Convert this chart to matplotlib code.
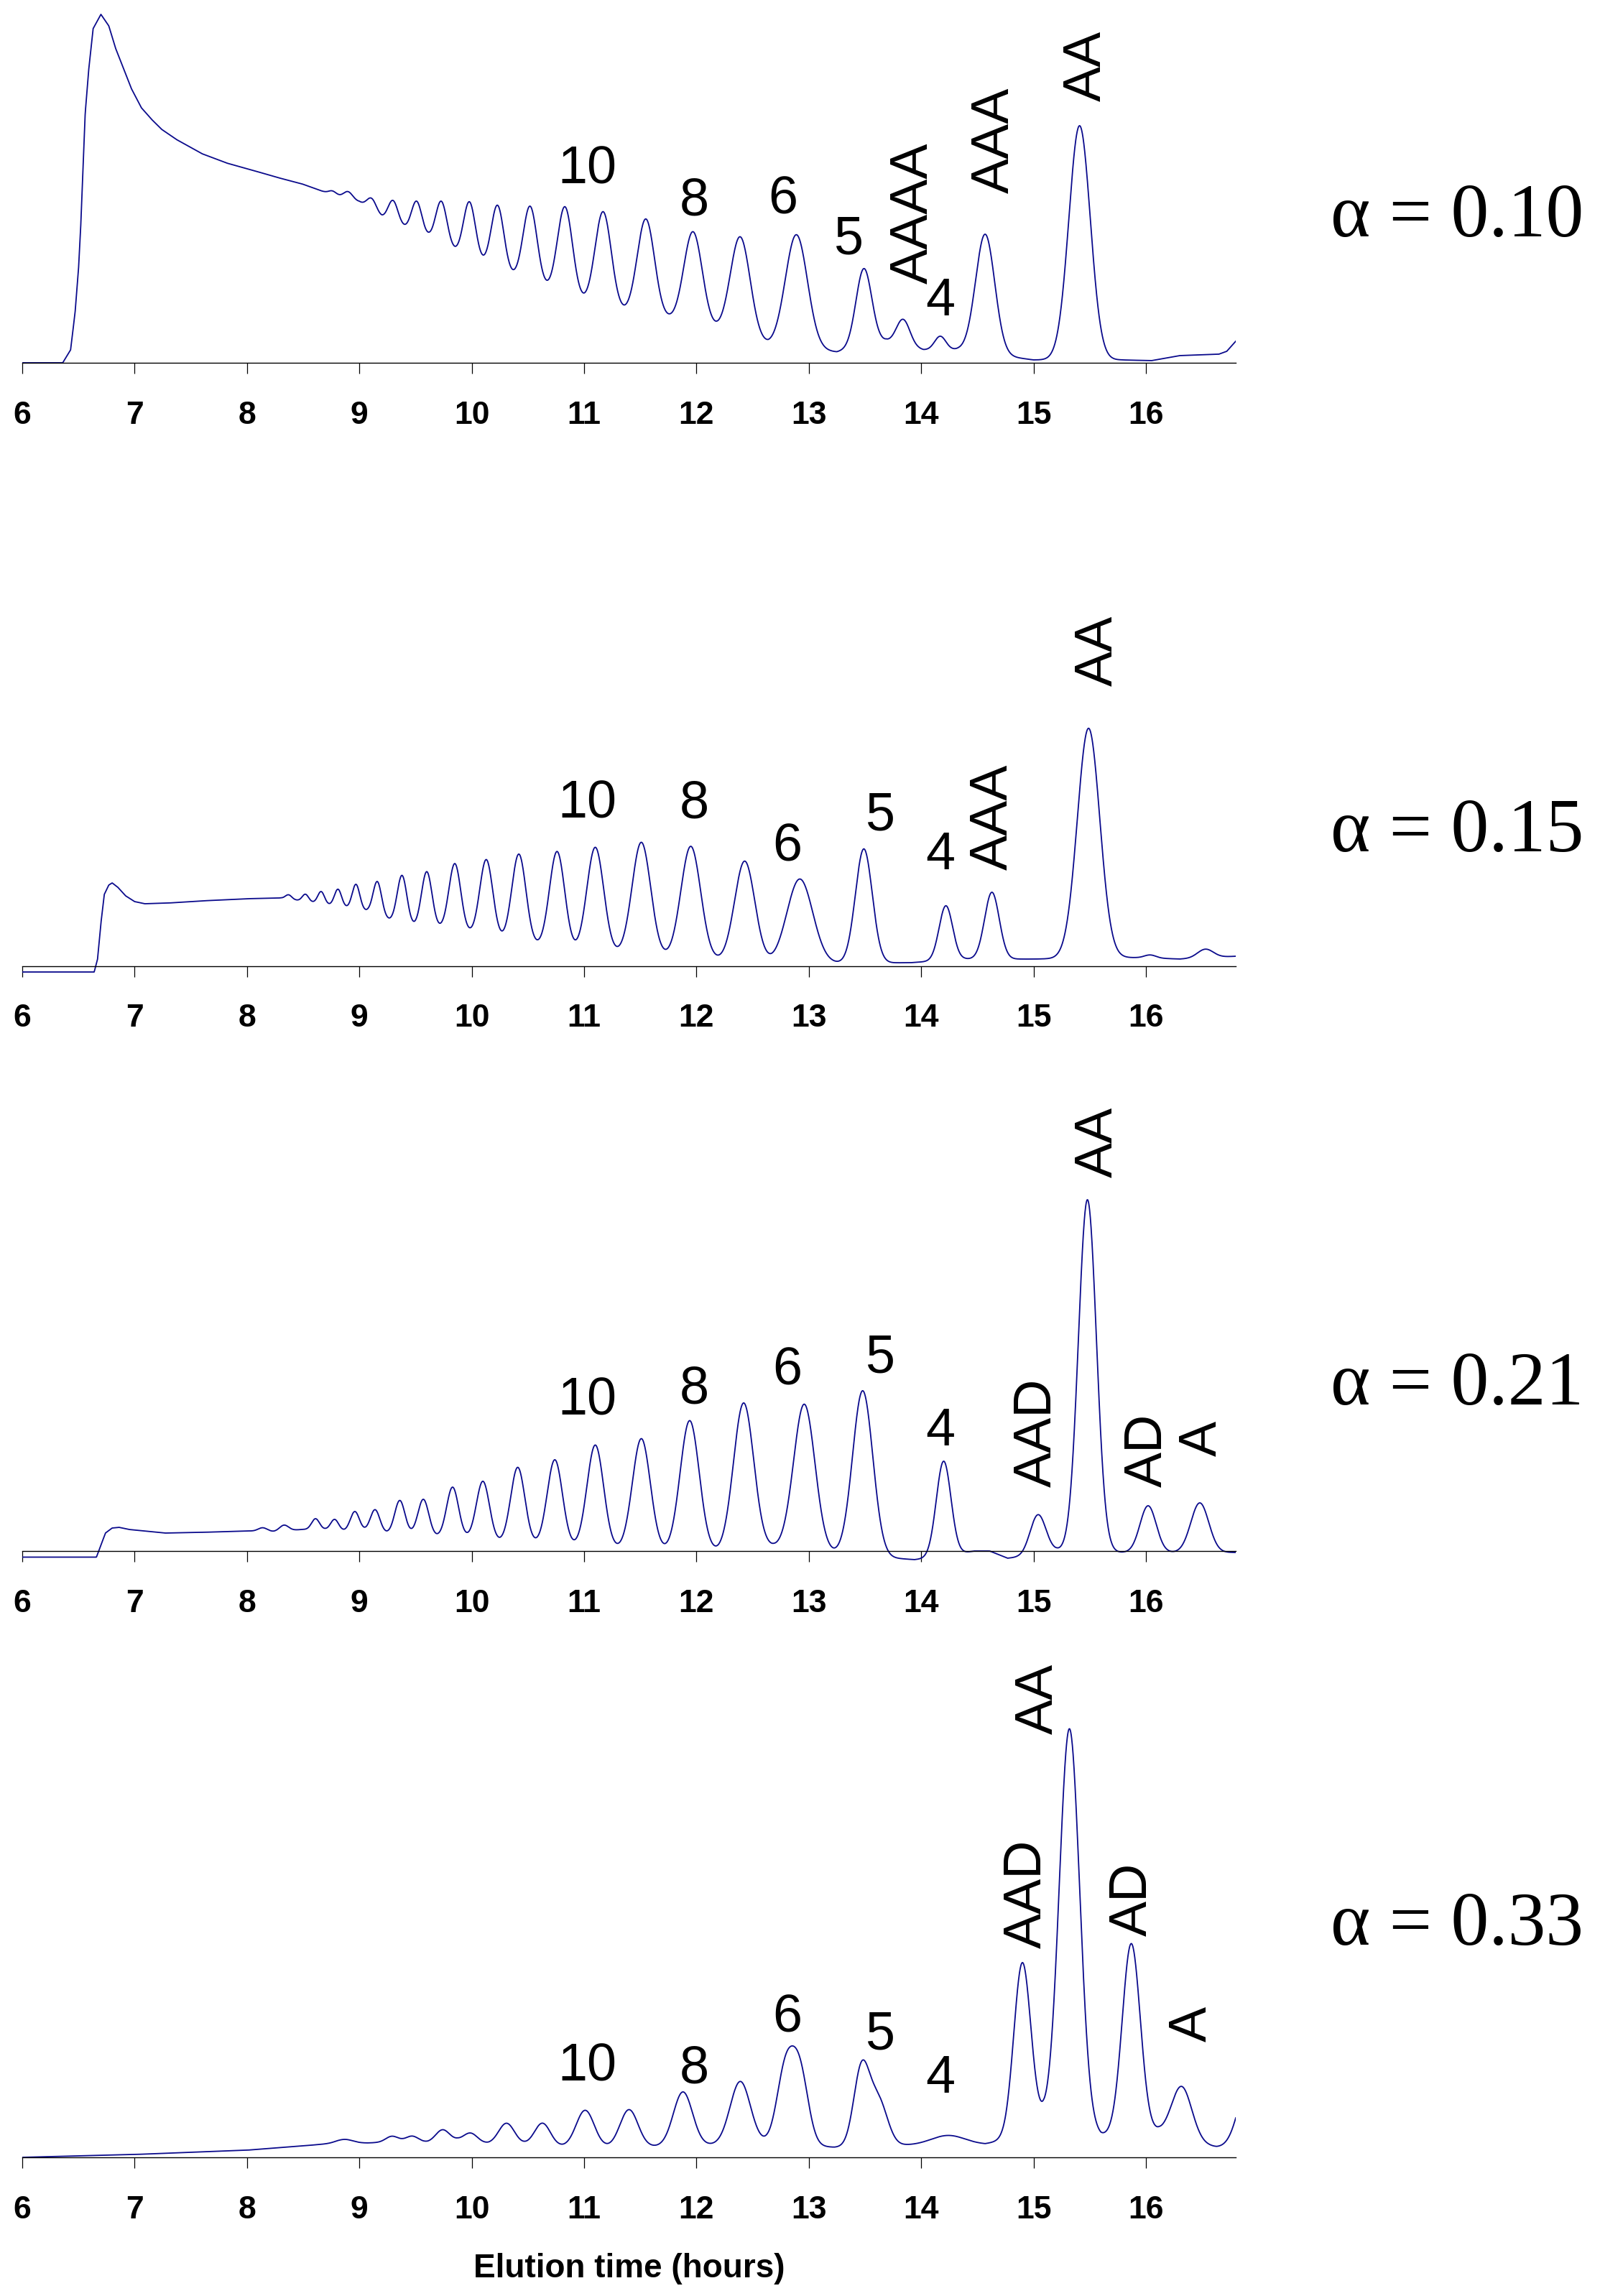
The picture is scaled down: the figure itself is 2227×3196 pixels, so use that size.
import numpy as np
import matplotlib
matplotlib.use("Agg")
import matplotlib.pyplot as plt

# Chromatograms for four alpha values. Heights are in pixels above the axis
# line of each panel, times in hours.

ALPHAS = ["0.10", "0.15", "0.21", "0.33"]

# --- alpha = 0.10 ---
base_t_010 = [6.00, 6.36, 6.43, 6.47, 6.50, 6.52, 6.54, 6.56, 6.59, 6.63, 6.70, 6.77, 6.83,
              6.88, 6.97, 7.06, 7.15, 7.24, 7.37, 7.60, 7.82, 8.05, 8.27, 8.49, 8.72,
              9.00, 9.20, 9.40, 9.62, 9.85, 10.10, 10.37, 10.67,
              11.00, 11.36, 11.76, 12.18, 12.64, 13.25, 13.69, 14.02, 14.33, 15.00, 15.78,
              16.05, 16.30, 16.65, 16.72, 16.80]
base_h_010 = [0, 0, 18, 70, 129, 189, 268, 347, 406, 465, 485, 469, 438,
              418, 382, 355, 339, 325, 311, 291, 278, 268, 258, 249, 236,
              224, 202, 188, 174, 155, 138, 120, 102,
              84, 70, 60, 45, 24, 15, 30, 18, 18, 4, 4,
              3, 10, 12, 16, 30]
peak_t_010 = [8.76, 8.90, 9.11, 9.30, 9.51, 9.73, 9.98, 10.23, 10.52, 10.83, 11.17, 11.55,
              11.97, 12.39, 12.89, 13.49, 13.84, 14.17, 14.57, 15.41]
peak_a_010 = [5, 10, 17, 31, 44, 60, 78, 90, 107, 124, 133, 135,
              130, 140, 158, 108, 36, 19, 166, 326]
peak_w_010 = [0.035, 0.04, 0.042, 0.044, 0.046, 0.05, 0.053, 0.056, 0.062, 0.067, 0.072, 0.077,
              0.082, 0.088, 0.098, 0.07, 0.06, 0.05, 0.085, 0.095]
labels_010 = ["10", "8", "6", "5", "AAAA", "4", "AAA", "AA"]
label_t_010 = [11.03, 11.98, 12.77, 13.35, 13.89, 14.17, 14.61, 15.43]
label_h_010 = [276, 232, 234, 178, 208, 92, 310, 413]

# --- alpha = 0.15 ---
base_t_015 = [6.00, 6.64, 6.67, 6.70, 6.73, 6.77, 6.80, 6.85, 6.92, 7.00, 7.09, 7.30, 7.60,
              8.00, 8.30, 8.58, 8.74, 8.90, 9.08, 9.27, 9.49, 9.74, 9.99, 10.27, 10.58,
              10.92, 11.30, 11.73, 12.16, 12.67, 13.24, 13.91, 14.39, 14.90, 15.00, 15.78,
              16.00, 16.30, 16.81]
base_h_015 = [-8, -8, 10, 60, 100, 113, 116, 110, 98, 90, 87, 88, 91,
              94, 95, 89, 85, 81, 76, 64, 55, 52, 45, 36, 28,
              20, 17, 12, 8, 3, 4, 5, 10, 10, 10, 12,
              12, 10, 14]
peak_t_015 = [8.37, 8.52, 8.66, 8.81, 8.97, 9.16, 9.38, 9.60, 9.85, 10.13, 10.42, 10.76,
              11.10, 11.51, 11.95, 12.43, 12.92, 13.49, 14.22, 14.63, 15.49, 16.04, 16.53]
peak_a_015 = [6, 10, 17, 24, 35, 47, 67, 78, 94, 108, 124, 136,
              147, 158, 157, 141, 118, 159, 76, 93, 320, 4, 12]
peak_w_015 = [0.028, 0.028, 0.03, 0.032, 0.034, 0.038, 0.043, 0.047, 0.053, 0.058, 0.063, 0.068,
              0.075, 0.083, 0.088, 0.09, 0.115, 0.075, 0.06, 0.065, 0.1, 0.05, 0.07]
labels_015 = ["10", "8", "6", "5", "4", "AAA", "AA"]
label_t_015 = [11.03, 11.98, 12.81, 13.63, 14.17, 14.60, 15.53]
label_h_015 = [233, 233, 173, 216, 161, 208, 439]

# --- alpha = 0.21 ---
base_t_021 = [6.00, 6.66, 6.70, 6.74, 6.80, 6.86, 6.95, 7.27, 7.60, 8.00, 8.24, 8.49, 8.70,
              8.87, 9.05, 9.24, 9.46, 9.68, 9.96, 10.25, 10.57, 10.92, 11.29, 11.72, 12.20,
              12.69, 13.22, 13.94, 14.20, 14.47, 14.61, 14.77, 14.90, 15.21, 15.77, 16.26,
              16.74, 16.80]
base_h_021 = [-8.5, -8.5, 8, 25, 32, 33, 30, 25, 26, 28, 27, 30, 30,
              28, 28, 25, 24, 20, 18, 12, 9, 5, 2, -1, -2,
              5, -4, -12, -8, 0, 0, -10, -8, 0, -2, -2,
              -2, -2]
peak_t_021 = [8.14, 8.33, 8.61, 8.78, 8.96, 9.14, 9.36, 9.57, 9.83, 10.10, 10.41, 10.74,
              11.10, 11.51, 11.94, 12.42, 12.96, 13.48, 14.20, 15.04, 15.48, 16.02, 16.48]
peak_a_021 = [5, 8, 15, 15, 27, 31, 46, 50, 70, 82, 106, 120,
              144, 156, 183, 205, 204, 230, 133, 55, 490, 65, 69]
peak_w_021 = [0.04, 0.04, 0.035, 0.035, 0.04, 0.042, 0.045, 0.048, 0.053, 0.058, 0.063, 0.068,
              0.074, 0.08, 0.085, 0.09, 0.095, 0.09, 0.065, 0.07, 0.08, 0.072, 0.08]
labels_021 = ["10", "8", "6", "5", "4", "AAD", "AA", "AD", "A"]
label_t_021 = [11.03, 11.98, 12.81, 13.63, 14.17, 14.99, 15.53, 15.97, 16.46]
label_h_021 = [216, 232, 258, 275, 173, 165, 569, 140, 157]

# --- alpha = 0.33 ---
base_t_033 = [6.00, 6.50, 7.00, 7.50, 8.00, 8.50, 8.80, 9.07, 9.38, 9.61, 9.875, 10.15,
              10.47, 10.815, 11.22, 11.62, 12.09, 12.63, 13.23, 13.88, 14.57, 14.75, 15.09,
              15.45, 15.60, 16.12, 16.40, 16.63, 16.80]
base_h_033 = [0, 2, 4, 7, 10, 16, 20, 20, 22, 21, 24, 19,
              18, 15, 14, 15, 17, 20, 14, 17, 18, 25, 50,
              40, 30, 35, 22, 14, 12]
peak_t_033 = [8.87, 9.29, 9.47, 9.74, 9.99, 10.31, 10.63, 11.01, 11.40, 11.88, 12.39, 12.79,
              12.92, 13.47, 13.62, 14.24, 14.90, 15.32, 15.87, 16.32, 16.93]
peak_a_033 = [5, 8, 8, 16, 12, 29, 31, 51, 52, 75, 87, 100,
              100, 108, 62, 13, 235, 553, 265, 73, 100]
peak_w_033 = [0.07, 0.055, 0.055, 0.06, 0.06, 0.07, 0.07, 0.08, 0.08, 0.085, 0.09, 0.075,
              0.075, 0.07, 0.08, 0.15, 0.075, 0.09, 0.08, 0.09, 0.1]
labels_033 = ["10", "8", "6", "5", "4", "AAD", "AA", "AD", "A"]
label_t_033 = [11.03, 11.98, 12.81, 13.63, 14.17, 14.90, 15.00, 15.84, 16.37]
label_h_033 = [133, 130, 201, 177, 116, 367, 638, 359, 186]

panels = [
    (base_t_010, base_h_010, peak_t_010, peak_a_010, peak_w_010, labels_010, label_t_010, label_h_010),
    (base_t_015, base_h_015, peak_t_015, peak_a_015, peak_w_015, labels_015, label_t_015, label_h_015),
    (base_t_021, base_h_021, peak_t_021, peak_a_021, peak_w_021, labels_021, label_t_021, label_h_021),
    (base_t_033, base_h_033, peak_t_033, peak_a_033, peak_w_033, labels_033, label_t_033, label_h_033),
]

# layout in output pixels
W, H = 2227, 3196
X0, X1 = 31, 1720
AXIS_Y = [505, 1345, 2159, 3003]
TOP_Y = [0, 800, 1500, 2250]
ALPHA_Y = [293, 1149, 1918, 2670]
PX_PER_HOUR = (X1 - X0) / 10.8

LINE_COLOR = "#0a0a8c"
CAP = 26.4  # half cap height of the peak labels, px

fig = plt.figure(figsize=(W / 100, H / 100), dpi=100)
t = np.linspace(6, 16.8, 5000)

for i, (bt, bh, pt, pa, pw, labs, lt, lh) in enumerate(panels):
    ay, top = AXIS_Y[i], TOP_Y[i]
    ax = fig.add_axes([X0 / W, 1 - (ay + 20) / H, (X1 - X0) / W, (ay + 20 - top) / H])
    ax.set_xlim(6, 16.8)
    ax.set_ylim(-20, ay - top)

    y = np.interp(t, bt, bh)
    for c, a, w in zip(pt, pa, pw):
        y = y + a * np.exp(-0.5 * ((t - c) / w) ** 2)
    ax.plot(t, y, color=LINE_COLOR, lw=1.3)

    for s, x0, h0 in zip(labs, lt, lh):
        if s.isalpha():
            ax.text(x0 + CAP / PX_PER_HOUR, h0, s, rotation=90, rotation_mode="anchor",
                    ha="center", va="baseline", fontsize=53, family="Liberation Sans")
        else:
            ax.text(x0, h0 - CAP, s, rotation_mode="anchor",
                    ha="center", va="baseline", fontsize=53, family="Liberation Sans")

    for side in ["left", "right", "top"]:
        ax.spines[side].set_visible(False)
    ax.spines["bottom"].set_position(("data", 0))
    ax.spines["bottom"].set_linewidth(1.0)
    ax.set_yticks([])
    ax.set_xticks(range(6, 17))
    ax.tick_params(axis="x", direction="out", length=10.8, width=0.9, pad=27, labelsize=32)
    for lab in ax.get_xticklabels():
        lab.set_fontweight("bold")
        lab.set_family("Liberation Sans")
    ax.patch.set_alpha(0)

    fig.text(2028 / W, 1 - (ALPHA_Y[i] + 36.5) / H, "\u03b1 = " + ALPHAS[i],
             ha="center", va="baseline", fontsize=76, family="Liberation Serif")

fig.text((X0 + X1) / 2 / W, 1 - 3170 / H, "Elution time (hours)", ha="center", va="baseline",
         fontsize=33, fontweight="bold", family="Liberation Sans")

fig.savefig("out.png", dpi=100)
